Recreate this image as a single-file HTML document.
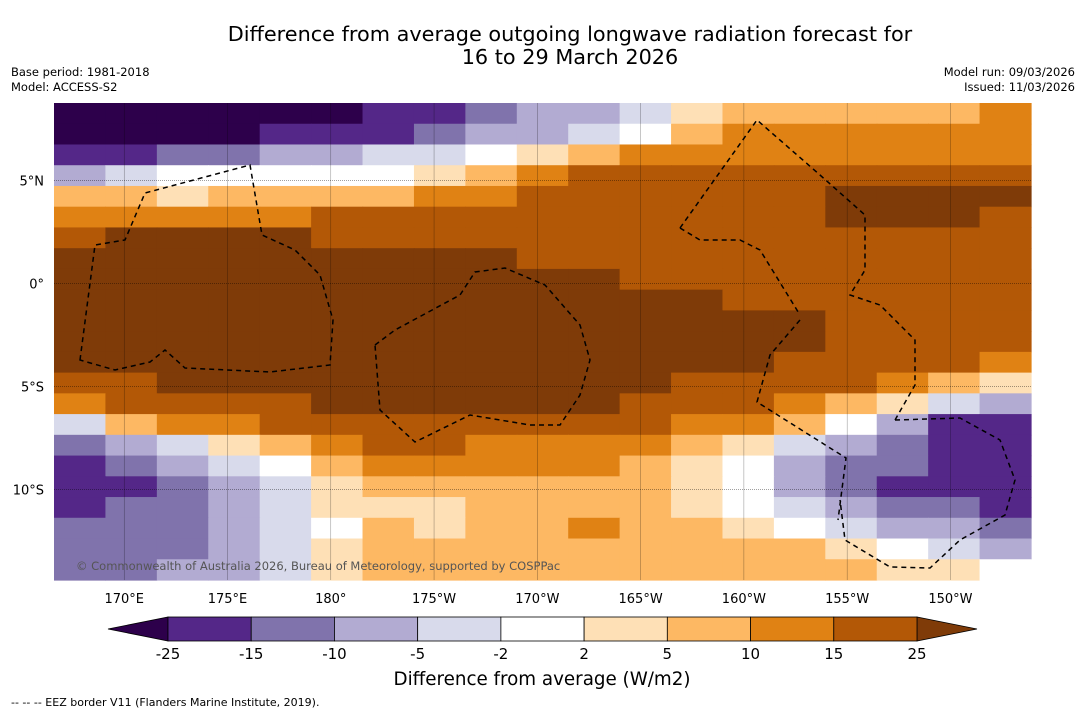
<!DOCTYPE html>
<html><head><meta charset="utf-8"><style>
body{margin:0;background:#fff;font-family:"DejaVu Sans","Liberation Sans",sans-serif}
svg text{font-family:"DejaVu Sans","Liberation Sans",sans-serif}
</style></head><body>
<svg id="c" width="1085" height="713" viewBox="0 0 1085 713" xmlns="http://www.w3.org/2000/svg">
<rect width="1085" height="713" fill="#fff"/>
<text x="570" y="41" font-size="20.8" text-anchor="middle">Difference from average outgoing longwave radiation forecast for</text>
<text x="570" y="64" font-size="20.8" text-anchor="middle">16 to 29 March 2026</text>
<text x="11" y="76" font-size="11.5">Base period: 1981-2018</text>
<text x="11" y="91" font-size="11.5">Model: ACCESS-S2</text>
<text x="1075" y="76" font-size="11.5" text-anchor="end">Model run: 09/03/2026</text>
<text x="1075" y="91" font-size="11.5" text-anchor="end">Issued: 11/03/2026</text>
<g id="map"></g>
<g id="grid"></g>
<g fill="none" stroke="#000" stroke-width="1.5" stroke-dasharray="5,4">
<path d="M80,360 L95,245 L125,240 L145,193 L250,165 L262,235 L295,250 L320,275 L333,320 L330,365 L270,372 L185,368 L165,350 L150,362 L115,370 Z"/>
<path d="M375,345 L395,330 L460,295 L475,272 L505,268 L545,285 L580,325 L590,360 L580,395 L560,425 L530,425 L470,415 L415,442 L380,410 Z"/>
<path d="M680,228 L757,120 L820,175 L865,215 L865,270 L850,295 L880,305 L915,340 L915,385 L895,420"/>
<path d="M800,320 L770,355 L757,402 L846,458 L838,520"/>
<path d="M895,420 L960,418 L1000,440 L1015,480 L1005,515 L960,540 L930,568 L890,567 L845,540 L840,500"/>
<path d="M680,228 L700,240 L740,240 L760,250 L800,315"/>
</g>
<text x="76" y="570" font-size="11.5" fill="#555">© Commonwealth of Australia 2026, Bureau of Meteorology, supported by COSPPac</text>
<g id="xt"></g>
<g id="yt"></g>
<g id="cb"></g>
<text x="542" y="685" font-size="18.3" text-anchor="middle">Difference from average (W/m2)</text>
<text x="11" y="706" font-size="11">--  --  -- EEZ border V11 (Flanders Marine Institute, 2019).</text>
</svg>
<script>
const lonLabels=["170°E","175°E","180°","175°W","170°W","165°W","160°W","155°W","150°W"];
const lonValues=[170,175,180,185,190,195,200,205,210];
const latLabels=["5°N","0°","5°S","10°S"];
const latValues=[5,0,-5,-10];
const levels=[-25,-15,-10,-5,-2,2,5,10,15,25];
const levelColors=["#2d004b","#542788","#8073ac","#b2abd2","#d8daeb","#ffffff","#fee0b6","#fdb863","#e08214","#b35806","#7f3b08"];
const field=[
[-30,-30,-30,-30,-30,-30,-20,-20,-12,-7,-7,-3,3,7,7,7,7,7,12],
[-30,-30,-30,-30,-20,-20,-20,-12,-7,-7,-3,0,7,12,12,12,12,12,12],
[-20,-20,-12,-12,-7,-7,-3,-3,0,3,7,12,12,12,12,12,12,12,12],
[-7,-3,0,0,0,0,0,3,7,12,20,20,20,20,20,20,20,20,20],
[7,7,3,7,7,7,7,12,12,20,20,20,20,20,20,30,30,30,30],
[12,12,12,12,12,20,20,20,20,20,20,20,20,20,20,30,30,30,20],
[20,30,30,30,30,20,20,20,20,20,20,20,20,20,20,20,20,20,20],
[30,30,30,30,30,30,30,30,30,20,20,20,20,20,20,20,20,20,20],
[30,30,30,30,30,30,30,30,30,30,30,20,20,20,20,20,20,20,20],
[30,30,30,30,30,30,30,30,30,30,30,30,30,20,20,20,20,20,20],
[30,30,30,30,30,30,30,30,30,30,30,30,30,30,30,20,20,20,20],
[30,30,30,30,30,30,30,30,30,30,30,30,30,30,30,20,20,20,20],
[30,30,30,30,30,30,30,30,30,30,30,30,30,30,20,20,20,20,12],
[20,20,30,30,30,30,30,30,30,30,30,30,20,20,20,20,12,7,3],
[12,20,20,20,20,30,30,30,30,30,30,20,20,20,12,7,3,-3,-7],
[-3,7,12,12,20,20,20,20,20,20,20,20,12,12,7,0,-7,-20,-20],
[-12,-7,-3,3,7,12,20,20,12,12,12,12,7,3,-3,-7,-12,-20,-20],
[-20,-12,-7,-3,0,7,12,12,12,12,12,7,3,0,-7,-12,-12,-20,-20],
[-20,-20,-12,-7,-3,3,7,7,7,7,7,7,3,0,-7,-12,-20,-20,-20],
[-20,-12,-12,-7,-3,3,3,3,7,7,7,7,3,0,-3,-7,-12,-12,-20],
[-12,-12,-12,-7,-3,0,7,3,7,7,12,7,7,3,0,-3,-7,-7,-12],
[-12,-12,-12,-7,-3,3,7,7,7,7,7,7,7,7,7,3,0,-3,-7],
[-12,-12,-7,-7,-3,3,7,7,7,7,7,7,7,7,7,7,3,3,0]
];
const NS="http://www.w3.org/2000/svg";
const X0=54,X1=1031,Y0=103,Y1=580;
const lonMin=166.6,lonMax=213.9,latMax=8.75,latMin=-14.4;
const xOf=l=>X0+(l-lonMin)/(lonMax-lonMin)*(X1-X0);
const yOf=l=>Y0+(latMax-l)/(latMax-latMin)*(Y1-Y0);
function colorFor(v){let i=0;while(i<levels.length&&v>levels[i])i++;return levelColors[i];}
function mk(t,a,p){const e=document.createElementNS(NS,t);for(const k in a)e.setAttribute(k,a[k]);p.appendChild(e);return e;}
const map=document.getElementById('map');
const rows=field.length,cols=field[0].length;
const cw=(X1-X0)/cols,ch=(Y1-Y0)/rows;
field.forEach((row,i)=>row.forEach((v,j)=>{
 const r=mk('rect',{x:X0+j*cw,y:Y0+i*ch,width:cw+0.6,height:ch+0.6,fill:colorFor(v)},map);
 
 
}));
const grid=document.getElementById('grid');
lonValues.forEach(l=>{mk('line',{x1:xOf(l),x2:xOf(l),y1:Y0,y2:Y1,stroke:'#000','stroke-width':0.5,'stroke-opacity':0.45},grid);});
latValues.forEach(l=>{mk('line',{x1:X0,x2:X1,y1:yOf(l),y2:yOf(l),stroke:'#000','stroke-width':0.6,'stroke-dasharray':'1,1','stroke-opacity':0.6},grid);});
const xt=document.getElementById('xt');
lonValues.forEach((l,i)=>{const t=mk('text',{x:xOf(l),y:603,'font-size':13,'text-anchor':'middle'},xt);t.textContent=lonLabels[i];
 
 });
const yt=document.getElementById('yt');
latValues.forEach((l,i)=>{const t=mk('text',{x:44,y:yOf(l)+5,'font-size':13,'text-anchor':'end'},yt);t.textContent=latLabels[i];
 
 });
const cb=document.getElementById('cb');
const cbx0=168,cbx1=917,cby=617,cbh=24,bw=(cbx1-cbx0)/(levels.length-1);
mk('polygon',{points:`${cbx0},${cby} ${cbx0},${cby+cbh} 108,${cby+cbh/2}`,fill:levelColors[0],stroke:'#000','stroke-width':0.8},cb);
mk('polygon',{points:`${cbx1},${cby} ${cbx1},${cby+cbh} 977,${cby+cbh/2}`,fill:levelColors[10],stroke:'#000','stroke-width':0.8},cb);
for(let i=0;i<levels.length-1;i++){
 const r=mk('rect',{x:cbx0+i*bw,y:cby,width:bw,height:cbh,fill:levelColors[i+1],stroke:'#000','stroke-width':0.8},cb);
 
 
}
levels.forEach((v,i)=>{const t=mk('text',{x:cbx0+i*bw,y:659,'font-size':15,'text-anchor':'middle'},cb);t.textContent=String(v);
 
 });
</script>
</body></html>
